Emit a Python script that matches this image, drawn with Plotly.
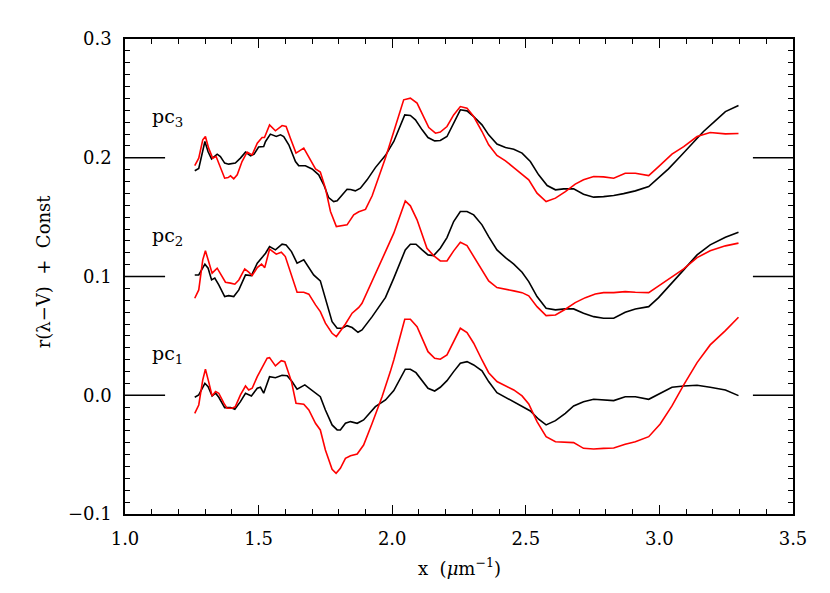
import plotly.graph_objects as go

# principal component residuals r(lambda-V) (no offset)
pc3_black_x = [1.261, 1.276, 1.299, 1.311, 1.324, 1.345, 1.357, 1.373, 1.388, 1.413, 1.432, 1.451, 1.470, 1.483,
               1.500, 1.519, 1.526, 1.544, 1.566, 1.582, 1.594, 1.613, 1.638, 1.650, 1.675, 1.700, 1.725, 1.744,
               1.762, 1.781, 1.794, 1.813, 1.831, 1.844, 1.862, 1.881, 1.906, 1.937, 1.975, 2.006, 2.047, 2.068,
               2.087, 2.112, 2.134, 2.159, 2.180, 2.205, 2.230, 2.255, 2.280, 2.305, 2.336, 2.361, 2.392, 2.424,
               2.455, 2.486, 2.517, 2.548, 2.580, 2.611, 2.642, 2.679, 2.716, 2.754, 2.791, 2.829, 2.866, 2.910,
               2.960, 2.997, 3.034, 3.078, 3.122, 3.165, 3.209, 3.247, 3.296]
pc3_black_y = [-0.011, -0.009, 0.0137, 0.005, -0.001, 0.003, 0.001, -0.0045, -0.0054, -0.0045, -0.0003, 0.0047,
               0.0016, 0.003, 0.009, 0.0094, 0.0137, 0.0199, 0.0179, 0.0193, 0.0179, 0.0109, -0.0032, -0.0066,
               -0.0068, -0.0094, -0.0144, -0.0228, -0.0335, -0.0369, -0.0363, -0.0313, -0.0265, -0.0268, -0.0279,
               -0.0256, -0.0186, -0.0083, 0.002, 0.0137, 0.0361, 0.0356, 0.0319, 0.0235, 0.017, 0.0142, 0.0145,
               0.0179, 0.0291, 0.0404, 0.0395, 0.0347, 0.0277, 0.0193, 0.0115, 0.0086, 0.0072, 0.0039, -0.0032,
               -0.0144, -0.0234, -0.027, -0.0262, -0.0262, -0.0307, -0.0332, -0.0327, -0.0318, -0.0302, -0.0279,
               -0.0243, -0.0172, -0.0094, 0.001, 0.0115, 0.0221, 0.0311, 0.0389, 0.044]

pc3_red_x = [1.261, 1.276, 1.291, 1.301, 1.313, 1.328, 1.341, 1.357, 1.373, 1.386, 1.395, 1.407, 1.420, 1.438,
             1.457, 1.476, 1.495, 1.513, 1.522, 1.541, 1.563, 1.588, 1.603, 1.619, 1.640, 1.669, 1.688, 1.713,
             1.731, 1.750, 1.769, 1.791, 1.831, 1.856, 1.875, 1.900, 1.925, 1.950, 1.975, 2.006, 2.043, 2.068,
             2.093, 2.137, 2.162, 2.180, 2.205, 2.230, 2.255, 2.280, 2.305, 2.336, 2.361, 2.392, 2.424, 2.455,
             2.486, 2.511, 2.542, 2.576, 2.611, 2.648, 2.685, 2.716, 2.754, 2.791, 2.829, 2.872, 2.910, 2.960,
             2.997, 3.047, 3.091, 3.141, 3.190, 3.247, 3.296]
pc3_red_y = [-0.0066, -0.0003, 0.0151, 0.0179, 0.0081, -0.0003, 0.001, -0.0088, -0.0172, -0.0167, -0.0152,
             -0.0178, -0.0144, -0.0032, 0.0047, 0.0024, 0.0123, 0.017, 0.017, 0.0277, 0.0227, 0.0271, 0.0263,
             0.0165, 0.0039, 0.0081, 0.001, -0.0094, -0.0121, -0.0256, -0.0453, -0.058, -0.0565, -0.0481, -0.0455,
             -0.0435, -0.032, -0.016, 0.0, 0.0221, 0.0488, 0.0502, 0.046, 0.0254, 0.0207, 0.0216, 0.0263, 0.0361,
             0.0431, 0.0418, 0.0347, 0.0221, 0.0109, 0.0019, -0.0026, -0.0083, -0.0138, -0.0186, -0.0298, -0.0369,
             -0.034, -0.0285, -0.0222, -0.0186, -0.0158, -0.0161, -0.0172, -0.013, -0.013, -0.015, -0.0074, 0.003,
             0.0094, 0.0179, 0.0212, 0.0201, 0.0204]

pc2_black_x = [1.261, 1.276, 1.299, 1.311, 1.324, 1.336, 1.351, 1.373, 1.388, 1.407, 1.426, 1.451, 1.473, 1.495,
               1.516, 1.526, 1.541, 1.563, 1.588, 1.603, 1.623, 1.644, 1.669, 1.690, 1.706, 1.731, 1.750, 1.775,
               1.794, 1.813, 1.831, 1.850, 1.872, 1.887, 1.925, 1.975, 2.006, 2.049, 2.068, 2.089, 2.112, 2.134,
               2.155, 2.180, 2.205, 2.230, 2.255, 2.280, 2.305, 2.336, 2.361, 2.392, 2.424, 2.455, 2.486, 2.511,
               2.542, 2.576, 2.611, 2.648, 2.679, 2.716, 2.754, 2.791, 2.829, 2.872, 2.910, 2.960, 2.997, 3.041,
               3.091, 3.141, 3.190, 3.247, 3.296]
pc2_black_y = [0.0013, 0.0013, 0.0104, 0.007, -0.0029, -0.0014, -0.0071, -0.0169, -0.0161, -0.0169, -0.0113,
               0.0013, 0.0008, 0.0112, 0.0168, 0.0196, 0.0252, 0.0224, 0.0272, 0.0266, 0.021, 0.0112, 0.014, 0.007,
               0.0013, -0.0037, -0.0183, -0.038, -0.0436, -0.0436, -0.0414, -0.043, -0.047, -0.045, -0.0338,
               -0.0176, -0.0014, 0.0224, 0.0272, 0.0272, 0.0224, 0.0182, 0.0176, 0.0238, 0.0328, 0.0463, 0.0547,
               0.0547, 0.0519, 0.0435, 0.0336, 0.0224, 0.0159, 0.0104, 0.0036, -0.0043, -0.0169, -0.0267, -0.0281,
               -0.0273, -0.0273, -0.0309, -0.0338, -0.0351, -0.0351, -0.0301, -0.0273, -0.0254, -0.0178, -0.0071,
               0.0056, 0.0182, 0.0266, 0.0331, 0.0373]

pc2_red_x = [1.261, 1.276, 1.291, 1.301, 1.313, 1.326, 1.345, 1.357, 1.376, 1.395, 1.411, 1.426, 1.448, 1.463,
             1.476, 1.495, 1.511, 1.523, 1.541, 1.566, 1.585, 1.600, 1.623, 1.644, 1.669, 1.688, 1.713, 1.731,
             1.750, 1.775, 1.791, 1.825, 1.850, 1.875, 1.887, 1.925, 1.962, 1.974, 2.006, 2.049, 2.068, 2.093,
             2.130, 2.155, 2.180, 2.205, 2.230, 2.255, 2.280, 2.305, 2.336, 2.361, 2.392, 2.424, 2.455, 2.486,
             2.511, 2.542, 2.576, 2.611, 2.648, 2.685, 2.723, 2.760, 2.791, 2.829, 2.872, 2.910, 2.960, 3.003,
             3.047, 3.091, 3.141, 3.190, 3.247, 3.296]
pc2_red_y = [-0.0183, -0.0113, 0.014, 0.0216, 0.0126, 0.0028, 0.007, 0.0028, -0.0048, -0.0056, -0.0065, -0.0029,
             0.0064, 0.0036, 0.0008, 0.0075, 0.0104, 0.0075, 0.023, 0.0188, 0.0205, 0.0168, 0.0013, -0.0132,
             -0.0132, -0.0149, -0.0239, -0.0296, -0.0393, -0.0478, -0.0506, -0.040, -0.0309, -0.026, -0.0225,
             -0.0043, 0.014, 0.0205, 0.0365, 0.0637, 0.0595, 0.0477, 0.0238, 0.0176, 0.0131, 0.0131, 0.0216,
             0.0289, 0.026, 0.0168, 0.0047, -0.0037, -0.0093, -0.0104, -0.0121, -0.0136, -0.0163, -0.0254,
             -0.0329, -0.0324, -0.0276, -0.022, -0.0178, -0.0147, -0.0136, -0.0136, -0.0127, -0.0132, -0.0136,
             -0.0071, -0.0001, 0.0064, 0.0159, 0.0216, 0.0258, 0.0281]

pc1_black_x = [1.261, 1.276, 1.299, 1.311, 1.326, 1.339, 1.351, 1.373, 1.395, 1.411, 1.432, 1.451, 1.473, 1.495,
               1.507, 1.519, 1.541, 1.563, 1.588, 1.607, 1.625, 1.644, 1.673, 1.694, 1.719, 1.731, 1.750, 1.775,
               1.794, 1.806, 1.825, 1.844, 1.869, 1.893, 1.937, 1.975, 2.006, 2.049, 2.068, 2.089, 2.134, 2.159,
               2.180, 2.205, 2.230, 2.255, 2.280, 2.305, 2.336, 2.361, 2.392, 2.424, 2.455, 2.486, 2.517, 2.548,
               2.576, 2.611, 2.648, 2.679, 2.716, 2.754, 2.791, 2.829, 2.872, 2.910, 2.960, 3.003, 3.047, 3.091,
               3.141, 3.190, 3.247, 3.296]
pc1_black_y = [-0.0017, 0.0003, 0.0101, 0.0072, -0.0006, 0.0017, -0.0017, -0.0104, -0.0104, -0.0118, -0.0054,
               0.0017, -0.0006, 0.0059, 0.0067, 0.0017, 0.0157, 0.0148, 0.0168, 0.0165, 0.0115, 0.0051, 0.0087,
               0.0051, 0.0003, -0.0012, -0.0124, -0.025, -0.0292, -0.0292, -0.0236, -0.0222, -0.0236, -0.0208,
               -0.0096, -0.004, 0.0039, 0.0219, 0.0219, 0.019, 0.0059, 0.0036, 0.0067, 0.0123, 0.0199, 0.027, 0.0283,
               0.0255, 0.0205, 0.0115, 0.0022, -0.0017, -0.0054, -0.009, -0.0132, -0.0202, -0.025, -0.0214, -0.0152,
               -0.009, -0.0054, -0.0034, -0.004, -0.0045, -0.0012, -0.0012, -0.0034, 0.0017, 0.0067, 0.0078, 0.0084,
               0.0067, 0.0045, -0.0003]

pc1_red_x = [1.261, 1.276, 1.291, 1.301, 1.313, 1.326, 1.339, 1.351, 1.370, 1.382, 1.401, 1.413, 1.432, 1.451,
             1.463, 1.476, 1.495, 1.513, 1.532, 1.541, 1.563, 1.585, 1.598, 1.623, 1.640, 1.669, 1.688, 1.713,
             1.731, 1.750, 1.775, 1.790, 1.806, 1.825, 1.844, 1.869, 1.893, 1.925, 1.962, 1.993, 2.006, 2.047,
             2.068, 2.093, 2.134, 2.159, 2.180, 2.205, 2.230, 2.255, 2.280, 2.305, 2.336, 2.361, 2.392, 2.424,
             2.455, 2.486, 2.511, 2.542, 2.576, 2.611, 2.679, 2.716, 2.754, 2.791, 2.829, 2.872, 2.910, 2.960,
             3.003, 3.047, 3.091, 3.141, 3.190, 3.247, 3.296]
pc1_red_y = [-0.0152, -0.0082, 0.0129, 0.0219, 0.0115, -0.0006, 0.0031, 0.0017, -0.0067, -0.011, -0.011, -0.0096,
             0.0003, 0.0078, 0.0045, 0.0059, 0.0157, 0.0227, 0.0312, 0.0317, 0.0247, 0.0291, 0.0283, 0.0115,
             -0.0067, -0.0076, -0.0124, -0.0236, -0.0292, -0.0461, -0.0623, -0.0657, -0.0615, -0.0531, -0.0509,
             -0.0495, -0.0419, -0.0236, -0.0012, 0.0199, 0.0297, 0.064, 0.064, 0.0578, 0.0367, 0.0312, 0.0303,
             0.034, 0.0452, 0.0564, 0.0527, 0.0438, 0.0297, 0.019, 0.0115, 0.0078, 0.0045, -0.0006, -0.0073,
             -0.0222, -0.0349, -0.0391, -0.0399, -0.0447, -0.0452, -0.0447, -0.0444, -0.0413, -0.0391, -0.0349,
             -0.0242, -0.009, 0.0087, 0.0275, 0.0424, 0.0544, 0.0657]

offsets = [0.0, 0.1, 0.2]
labels = ["pc<sub>1</sub>", "pc<sub>2</sub>", "pc<sub>3</sub>"]
label_y = [0.034, 0.134, 0.234]
ref_left = [1.0, 1.15]
ref_right = [3.35, 3.5]

series = [
    (pc1_black_x, pc1_black_y, pc1_red_x, pc1_red_y),
    (pc2_black_x, pc2_black_y, pc2_red_x, pc2_red_y),
    (pc3_black_x, pc3_black_y, pc3_red_x, pc3_red_y),
]

fig = go.Figure()
for (bx, by, rx, ry), c in zip(series, offsets):
    fig.add_trace(go.Scatter(x=bx, y=[v + c for v in by], mode="lines",
                             line=dict(color="black", width=1.6)))
    fig.add_trace(go.Scatter(x=rx, y=[v + c for v in ry], mode="lines",
                             line=dict(color="#ff0000", width=1.6)))
    # short constant markers at both sides
    for seg in (ref_left, ref_right):
        fig.add_trace(go.Scatter(x=seg, y=[c, c], mode="lines",
                                 line=dict(color="black", width=1.4)))

for txt, yy in zip(labels, label_y):
    fig.add_annotation(x=1.095, y=yy, text=txt, showarrow=False, xanchor="left", yanchor="middle",
                       font=dict(size=19))

# axis titles placed by hand so the plot box keeps its margins
fig.add_annotation(xref="paper", yref="paper", x=0.5, y=-0.112, text="x  (<i>μ</i>m<sup>−1</sup>)",
                   showarrow=False, xanchor="center", yanchor="middle", font=dict(size=18))
fig.add_annotation(xref="paper", yref="paper", x=-0.122, y=0.51, text="r(λ−V)  +  Const", textangle=-90,
                   showarrow=False, xanchor="center", yanchor="middle", font=dict(size=18))

axis_style = dict(showline=True, linecolor="black", linewidth=1.5, mirror="ticks", ticks="inside",
                  ticklen=9, tickwidth=1.3, tickcolor="black", showgrid=False, zeroline=False,
                  tickformat=".1f", automargin=False, tickfont=dict(size=18))
fig.update_xaxes(range=[1.0, 3.5], dtick=0.5, tick0=1.0,
                 minor=dict(dtick=0.1, ticklen=5, ticks="inside", tickwidth=1.3, tickcolor="black", showgrid=False),
                 ticklabelstandoff=8, **axis_style)
fig.update_yaxes(range=[-0.1, 0.3], dtick=0.1, tick0=0.0,
                 minor=dict(dtick=0.01, ticklen=5, ticks="inside", tickwidth=1.3, tickcolor="black", showgrid=False),
                 ticklabelstandoff=8, **axis_style)

# the page adds an 8px body margin, so the box is shifted back by that much
fig.update_layout(width=830, height=593, showlegend=False,
                  margin=dict(l=116.5, r=45.3, t=31, b=87.3),
                  plot_bgcolor="white", paper_bgcolor="white",
                  font=dict(family="DejaVu Serif", size=17, color="black"))

fig.write_html("out.html")
